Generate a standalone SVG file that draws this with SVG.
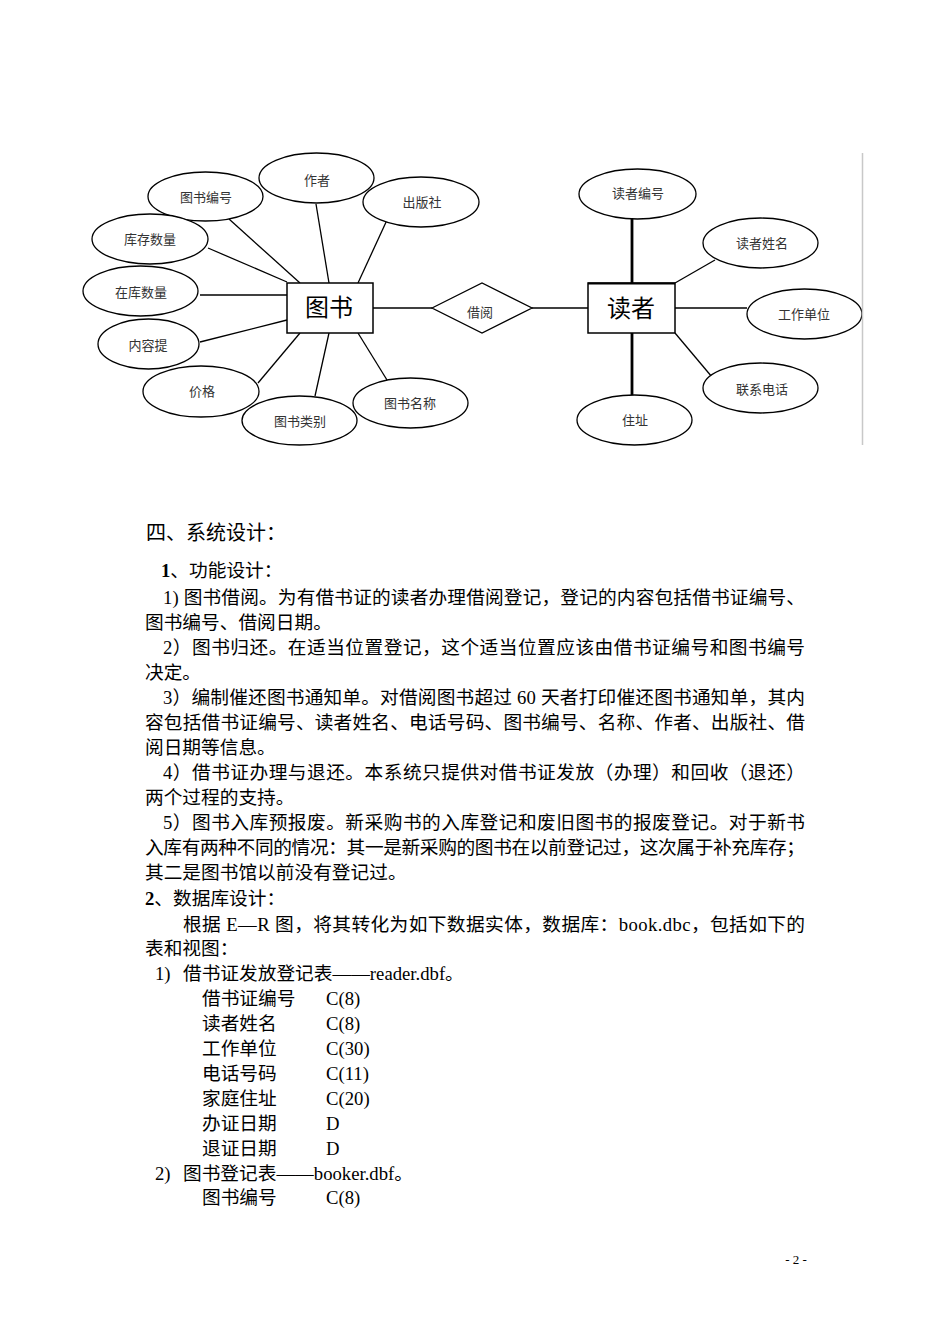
<svg xmlns="http://www.w3.org/2000/svg" width="950" height="1344" viewBox="0 0 950 1344">
<style>
.el{fill:#fff;stroke:#000;stroke-width:1.3}
.ent{fill:#fff;stroke:#000;stroke-width:1.5}
.ln{stroke:#000;stroke-width:1.3;fill:none}
.thick{stroke:#000;stroke-width:2.8;fill:none}
.lbl{font-family:"Noto Sans CJK SC",sans-serif;font-size:13px;fill:#333;text-anchor:middle}
.big{font-family:"Noto Sans CJK SC",sans-serif;font-size:24px;fill:#000;text-anchor:middle}
.t{font-family:"Liberation Serif","Noto Sans CJK SC",serif;font-size:18.7px;fill:#000}
.h{font-family:"Liberation Serif","Noto Sans CJK SC",serif;font-size:20px;fill:#000}
.pg{font-family:"Liberation Serif",serif;font-size:13px;fill:#000;text-anchor:middle}
</style>
<rect width="950" height="1344" fill="#fff"/>
<g id="connectors">
<line class="ln" x1="229" y1="219" x2="300" y2="283"/>
<line class="ln" x1="316" y1="204" x2="329" y2="283"/>
<line class="ln" x1="387" y1="220" x2="358" y2="283"/>
<line class="ln" x1="208" y1="248" x2="287" y2="282"/>
<line class="ln" x1="200" y1="295" x2="287" y2="295"/>
<line class="ln" x1="200" y1="342" x2="287" y2="320"/>
<line class="ln" x1="258" y1="383" x2="300" y2="333"/>
<line class="ln" x1="315" y1="396" x2="329" y2="333"/>
<line class="ln" x1="387" y1="380" x2="358" y2="333"/>
<line class="ln" x1="373" y1="308" x2="432" y2="308"/>
<line class="ln" x1="532" y1="308" x2="588" y2="308"/>
<line class="thick" x1="632" y1="219" x2="632" y2="283"/>
<line class="ln" x1="715" y1="260" x2="675" y2="283"/>
<line class="ln" x1="675" y1="308" x2="747" y2="308"/>
<line class="ln" x1="675" y1="333" x2="712" y2="377"/>
<line class="thick" x1="632" y1="333" x2="632" y2="395"/>
</g>
<g id="book"><rect class="ent" x="287" y="283" width="86" height="50" stroke-width="2.2"/><text class="big" x="329" y="316">图书</text></g>
<g id="book-id"><ellipse class="el" cx="205.5" cy="196.5" rx="57.5" ry="24.5"/><text class="lbl" x="206" y="201.5">图书编号</text></g>
<g id="author"><ellipse class="el" cx="316.5" cy="178" rx="57.5" ry="25"/><text class="lbl" x="317" y="185">作者</text></g>
<g id="publisher"><ellipse class="el" cx="421" cy="202" rx="58" ry="25"/><text class="lbl" x="422" y="207">出版社</text></g>
<g id="stock"><ellipse class="el" cx="150" cy="239" rx="58" ry="25"/><text class="lbl" x="150" y="244">库存数量</text></g>
<g id="instock"><ellipse class="el" cx="140.5" cy="291" rx="57.5" ry="25"/><text class="lbl" x="141" y="297">在库数量</text></g>
<g id="content"><ellipse class="el" cx="148.5" cy="344" rx="50.5" ry="25"/><text class="lbl" x="148" y="350">内容提</text></g>
<g id="price"><ellipse class="el" cx="201" cy="391.5" rx="58" ry="25.5"/><text class="lbl" x="202" y="396">价格</text></g>
<g id="category"><ellipse class="el" cx="299.5" cy="420.5" rx="57.5" ry="24.5"/><text class="lbl" x="300" y="426">图书类别</text></g>
<g id="title"><ellipse class="el" cx="410.5" cy="403" rx="57.5" ry="25"/><text class="lbl" x="410" y="407.5">图书名称</text></g>
<g id="borrow"><polygon class="el" points="432,308 482,283 532,308 482,333"/><text class="lbl" x="480" y="317">借阅</text></g>
<g id="reader"><rect class="ent" x="588" y="283" width="87" height="50"/><line x1="588" y1="283.5" x2="675" y2="283.5" stroke="#000" stroke-width="2"/><text class="big" x="631" y="317">读者</text></g>
<g id="reader-id"><ellipse class="el" cx="637.5" cy="194" rx="58.5" ry="25"/><text class="lbl" x="638" y="198">读者编号</text></g>
<g id="reader-name"><ellipse class="el" cx="760.5" cy="243" rx="57.5" ry="25"/><text class="lbl" x="762" y="247.5">读者姓名</text></g>
<g id="workplace"><ellipse class="el" cx="804.5" cy="314" rx="57.5" ry="25"/><text class="lbl" x="804" y="318.5">工作单位</text></g>
<g id="phone"><ellipse class="el" cx="760.5" cy="388" rx="57.5" ry="25"/><text class="lbl" x="762" y="393.5">联系电话</text></g>
<g id="address"><ellipse class="el" cx="634.5" cy="420" rx="57.5" ry="25"/><text class="lbl" x="635" y="425">住址</text></g>
<line x1="862.5" y1="153" x2="862.5" y2="445" stroke="#c8c8c8" stroke-width="1.5"/>
<g id="body">
<text class="h" x="146" y="540">四、系统设计：</text>
<text class="t" x="161" y="577"><tspan font-weight="bold">1</tspan>、功能设计：</text>
<text class="t" x="163" y="604" textLength="642" lengthAdjust="spacing">1) 图书借阅。为有借书证的读者办理借阅登记，登记的内容包括借书证编号、</text>
<text class="t" x="145" y="629">图书编号、借阅日期。</text>
<text class="t" x="163" y="654" textLength="642" lengthAdjust="spacing">2）图书归还。在适当位置登记，这个适当位置应该由借书证编号和图书编号</text>
<text class="t" x="145" y="679">决定。</text>
<text class="t" x="163" y="704" textLength="642" lengthAdjust="spacing">3）编制催还图书通知单。对借阅图书超过 60 天者打印催还图书通知单，其内</text>
<text class="t" x="145" y="729" textLength="660" lengthAdjust="spacing">容包括借书证编号、读者姓名、电话号码、图书编号、名称、作者、出版社、借</text>
<text class="t" x="145" y="754">阅日期等信息。</text>
<text class="t" x="163" y="779" textLength="642" lengthAdjust="spacing">4）借书证办理与退还。本系统只提供对借书证发放（办理）和回收（退还）</text>
<text class="t" x="145" y="804">两个过程的支持。</text>
<text class="t" x="163" y="829" textLength="642" lengthAdjust="spacing">5）图书入库预报废。新采购书的入库登记和废旧图书的报废登记。对于新书</text>
<text class="t" x="145" y="854" textLength="660" lengthAdjust="spacing">入库有两种不同的情况：其一是新采购的图书在以前登记过，这次属于补充库存；</text>
<text class="t" x="145" y="879">其二是图书馆以前没有登记过。</text>
<text class="t" x="145" y="905"><tspan font-weight="bold">2</tspan>、数据库设计：</text>
<text class="t" x="183" y="931" textLength="622" lengthAdjust="spacing">根据 E—R 图，将其转化为如下数据实体，数据库：book.dbc，包括如下的</text>
<text class="t" x="145" y="955">表和视图：</text>
<text class="t" x="155" y="980">1)<tspan x="183">借书证发放登记表——reader.dbf。</tspan></text>
<text class="t" x="202" y="1005">借书证编号<tspan x="326">C(8)</tspan></text>
<text class="t" x="202" y="1030">读者姓名<tspan x="326">C(8)</tspan></text>
<text class="t" x="202" y="1055">工作单位<tspan x="326">C(30)</tspan></text>
<text class="t" x="202" y="1080">电话号码<tspan x="326">C(11)</tspan></text>
<text class="t" x="202" y="1105">家庭住址<tspan x="326">C(20)</tspan></text>
<text class="t" x="202" y="1130">办证日期<tspan x="326">D</tspan></text>
<text class="t" x="202" y="1155">退证日期<tspan x="326">D</tspan></text>
<text class="t" x="155" y="1180">2)<tspan x="183">图书登记表——booker.dbf。</tspan></text>
<text class="t" x="202" y="1204">图书编号<tspan x="326">C(8)</tspan></text>
</g>
<text class="pg" x="796" y="1264">- 2 -</text>
</svg>
